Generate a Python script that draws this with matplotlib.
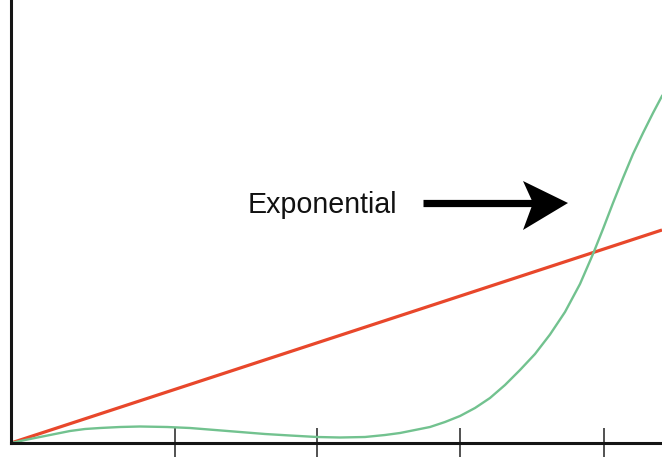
import numpy as np
import matplotlib
matplotlib.use('Agg')
from matplotlib import pyplot as plt

# data (pixel-like units, origin at the axes corner)
linear_x = [0, 651]
linear_y = [0, 213]

expo_x = [0, 14, 29, 44, 59, 74, 89, 109, 129, 156, 179, 204, 229, 254, 279,
          306, 329, 354, 374, 389, 404, 419, 434, 449, 464, 479, 494, 509,
          524, 539, 554, 569, 582, 592, 602, 612, 622, 632, 642, 651]
expo_y = [0, 3, 6, 9, 12, 14, 15, 16, 16.5, 16, 15, 13, 11, 9, 7.5,
          6, 5.5, 6, 8, 10, 13, 16, 21, 27, 35, 45, 58, 73,
          89, 108.5, 131, 159, 189, 214, 240, 265, 289, 310, 330, 347]

tick_pos = [164, 306, 449, 593]
label = 'Exponential'

fig = plt.figure(figsize=(6.62, 4.57), dpi=100)
ax = fig.add_axes([11 / 662, 14 / 457, 651 / 662, 443 / 457])
ax.set_xlim(0, 651)
ax.set_ylim(0, 443)

ax.plot(linear_x, linear_y, color='#e8472b', lw=2.3, solid_capstyle='butt')
ax.plot(expo_x, expo_y, color='#72c28f', lw=1.7)

for s in ['top', 'right']:
    ax.spines[s].set_visible(False)
for s in ['left', 'bottom']:
    ax.spines[s].set_linewidth(2.2)
    ax.spines[s].set_color('#151515')

ax.set_xticks(tick_pos)
ax.set_xticklabels([])
ax.set_yticks([])
ax.tick_params(axis='x', direction='inout', length=22, width=1.1, color='#222222')

ax.text(237, 238, label, fontsize=20.6, family='Liberation Sans',
        ha='left', va='center', color='#111111')

# arrow: shaft + swept-back head
ax.plot([412, 528], [240, 240], color='black', lw=5.2, solid_capstyle='butt')
head_x = [557, 512, 522, 512, 557]
head_y = [240, 262, 240, 213, 240]
ax.fill(head_x, head_y, color='black', lw=0)

fig.savefig('out.png', dpi=100)
